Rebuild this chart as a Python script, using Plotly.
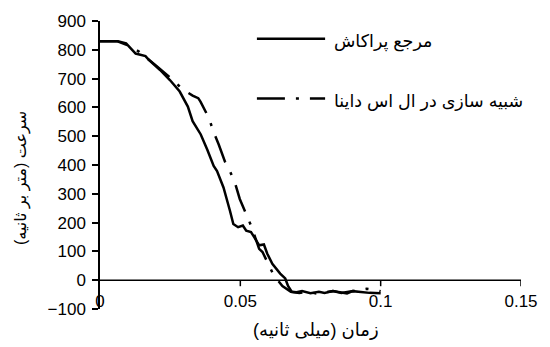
import plotly.graph_objects as go

# Reference (Prakash) - solid
t_ref = [0, 0.0064, 0.0093, 0.011, 0.0127, 0.0162, 0.0174, 0.0214, 0.0249, 0.0284,
         0.0313, 0.033, 0.0359, 0.0382, 0.0405, 0.0417, 0.044, 0.0463, 0.0475, 0.0492,
         0.0509, 0.0521, 0.0538, 0.055, 0.0567, 0.0584, 0.0596, 0.0614, 0.0642, 0.066,
         0.067, 0.0683, 0.070, 0.072, 0.075, 0.078, 0.080, 0.083, 0.086, 0.088, 0.090,
         0.093, 0.096, 0.100]
v_ref = [830, 830, 822, 805, 787, 778, 765, 730, 695, 655,
         603, 552, 506, 454, 397, 379, 322, 241, 195, 184,
         190, 172, 167, 149, 121, 124, 92, 57, 23, 6,
         -20, -40, -42, -38, -45, -40, -44, -38, -42, -46, -38,
         -42, -44, -45]

# LS-DYNA simulation - dash-dot
t_sim = [0, 0.006, 0.010, 0.014, 0.020, 0.026, 0.0293, 0.033, 0.035, 0.0358,
         0.0388, 0.0405, 0.0423, 0.0445, 0.0463, 0.0483, 0.0498, 0.0538, 0.0567,
         0.0579, 0.0619, 0.065, 0.068, 0.071, 0.074, 0.077, 0.080, 0.083, 0.086,
         0.089, 0.092, 0.095, 0.098, 0.100]
v_sim = [830, 830, 815, 793, 745, 695, 664, 641, 632, 620,
         563, 514, 471, 412, 379, 331, 282, 190, 109,
         98, 17, -20, -40, -44, -40, -46, -42, -38, -44,
         -40, -36, -30, -34, -38]

x_ticks = [0, 0.05, 0.1, 0.15]
x_ticktext = ["0", "0.05", "0.1", "0.15"]
y_ticks = list(range(-100, 1000, 100))

name_ref = "مرجع پراکاش"
name_sim = "شبیه سازی در ال اس داینا"
x_title = "زمان (میلی ثانیه)\u200f"
y_title = "سرعت (متر بر ثانیه)\u200f"

DASHDOT = "28px,11px,3px,11px"

fig = go.Figure()
fig.add_trace(go.Scatter(x=t_ref, y=v_ref, mode="lines", name=name_ref,
                         line=dict(color="black", width=2.5), showlegend=False))
fig.add_trace(go.Scatter(x=t_sim, y=v_sim, mode="lines", name=name_sim,
                         line=dict(color="black", width=2.5, dash=DASHDOT),
                         showlegend=False))

# x-axis line at y=0 and its ticks
fig.add_shape(type="line", xref="x", yref="y", x0=0, x1=0.15, y0=0, y1=0,
              line=dict(color="black", width=1.5))
for xv in x_ticks[1:]:
    fig.add_shape(type="line", xref="x", yref="y", ysizemode="pixel", yanchor=0,
                  x0=xv, x1=xv, y0=0, y1=-6, line=dict(color="black", width=1.5))

# manual legend
leg = [(name_ref, 0.938, "solid"), (name_sim, 0.731, DASHDOT)]
for txt, yy, dsh in leg:
    fig.add_shape(type="line", xref="paper", yref="paper", x0=0.3727, x1=0.5347,
                  y0=yy, y1=yy, line=dict(color="black", width=2.5, dash=dsh))
    fig.add_annotation(xref="paper", yref="paper", x=0.551, y=yy, yshift=-3,
                       xanchor="left", yanchor="middle", text=txt, showarrow=False,
                       font=dict(size=17.5, color="black"))

fig.add_annotation(xref="paper", yref="paper", x=0.514, y=0, yshift=-21,
                   xanchor="center", yanchor="middle", text=x_title, showarrow=False,
                   font=dict(size=18, color="black"))
fig.add_annotation(xref="paper", yref="paper", x=0, xshift=-78, y=0.455,
                   xanchor="center", yanchor="middle", text=y_title, showarrow=False,
                   textangle=-90, font=dict(size=16, color="black"))

fig.update_layout(
    width=550, height=347,
    margin=dict(l=100, r=18, t=19, b=38),
    paper_bgcolor="white", plot_bgcolor="white",
    font=dict(family="Liberation Sans, Arial, DejaVu Sans", size=17, color="black"),
    xaxis=dict(range=[0, 0.15], tickvals=x_ticks, ticktext=x_ticktext,
               showgrid=False, zeroline=False, showline=False, ticks="",
               ticklabelstandoff=-20, tickfont=dict(size=17)),
    yaxis=dict(range=[-100, 900], tickvals=y_ticks, showgrid=False, zeroline=False,
               showline=True, linecolor="black", linewidth=1.5, ticks="outside",
               ticklen=6, tickwidth=1.5, tickcolor="black", tickfont=dict(size=17),
               ticklabelstandoff=3),
    showlegend=False,
)

fig.write_html("out.html")
